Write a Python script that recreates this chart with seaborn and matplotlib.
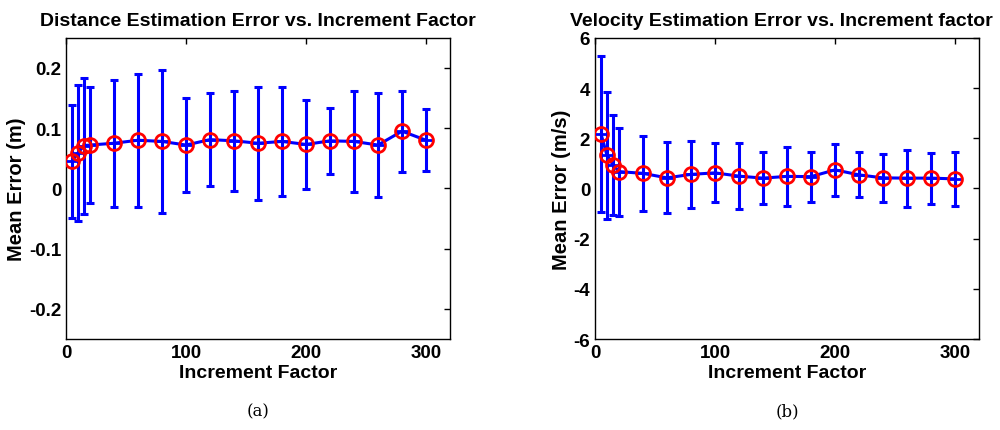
import seaborn as sns
import matplotlib.pyplot as plt
import pandas as pd

# Increment factors (x values shared by both panels)
factors = [5, 10, 15, 20, 40, 60, 80, 100, 120, 140, 160, 180, 200, 220, 240, 260, 280, 300]

# Distance estimation error (m)
dist_mean = [0.045, 0.059, 0.071, 0.072, 0.075, 0.080, 0.078, 0.072, 0.081, 0.079,
             0.075, 0.078, 0.073, 0.079, 0.078, 0.072, 0.095, 0.080]
dist_err = [0.0935, 0.1125, 0.113, 0.097, 0.105, 0.110, 0.119, 0.0785, 0.0775, 0.083,
            0.094, 0.090, 0.0735, 0.055, 0.084, 0.086, 0.0675, 0.0515]

# Velocity estimation error (m/s)
vel_mean = [2.17, 1.32, 0.94, 0.67, 0.60, 0.42, 0.56, 0.62, 0.49, 0.41,
            0.48, 0.47, 0.74, 0.54, 0.42, 0.41, 0.41, 0.38]
vel_err = [3.10, 2.54, 2.00, 1.75, 1.49, 1.41, 1.32, 1.18, 1.30, 1.04,
           1.17, 1.00, 1.03, 0.90, 0.97, 1.13, 1.02, 1.07]

sns.set_style("white")
plt.rcParams['font.family'] = ['Liberation Sans', 'DejaVu Sans']
plt.rcParams['font.weight'] = 'bold'
plt.rcParams['text.color'] = 'black'
plt.rcParams['axes.labelcolor'] = 'black'

fig = plt.figure(figsize=(10, 4.31), dpi=100)
ax1 = fig.add_axes([0.066, 0.211, 0.384, 0.699])
ax2 = fig.add_axes([0.595, 0.211, 0.384, 0.699])

panels = [
    (ax1, dist_mean, dist_err, "Distance Estimation Error vs. Increment Factor",
     "Mean Error (m)", (-0.25, 0.25), [-0.2, -0.1, 0, 0.1, 0.2], "(a)", 0.5),
    (ax2, vel_mean, vel_err, "Velocity Estimation Error vs. Increment factor",
     "Mean Error (m/s)", (-6, 6), [-6, -4, -2, 0, 2, 4, 6], "(b)", 0.485),
]

for ax, mean, err, title, ylabel, ylim, yticks, tag, tx in panels:
    df = pd.DataFrame({"factor": factors, "mean": mean})
    ax.errorbar(factors, mean, yerr=err, fmt='none', ecolor='#0000ff',
                elinewidth=2.2, capsize=3, capthick=2.2, zorder=2)
    sns.lineplot(data=df, x="factor", y="mean", ax=ax, color='#0000ff', lw=2.2,
                 marker='+', markersize=10, markeredgewidth=2, markeredgecolor='#0000ff',
                 zorder=3)
    sns.lineplot(data=df, x="factor", y="mean", ax=ax, linestyle='none',
                 marker='o', markersize=10, markerfacecolor='none',
                 markeredgecolor='#ff0000', markeredgewidth=2, zorder=4)
    ax.set_xlim(0, 320)
    ax.set_ylim(*ylim)
    ax.set_xticks([0, 100, 200, 300])
    ax.set_yticks(yticks)
    ax.set_yticklabels([f"{t:g}" for t in yticks])
    ax.tick_params(direction='in', top=True, right=True, length=4, width=1,
                   labelsize=13.5, pad=3.5, colors='black')
    for lab in ax.get_xticklabels() + ax.get_yticklabels():
        lab.set_fontweight('bold')
    for sp in ax.spines.values():
        sp.set_visible(True)
        sp.set_color('black')
        sp.set_linewidth(1)
    ax.set_title(title, fontsize=14, fontweight='bold', pad=9, color='black', x=tx)
    ax.set_xlabel("Increment Factor", fontsize=14, fontweight='bold', labelpad=2)
    ax.set_ylabel(ylabel, fontsize=14.5, fontweight='bold', labelpad=2)
    pos = ax.get_position()
    fig.text(pos.x0 + pos.width / 2, 0.045, tag, ha='center', va='center',
             fontsize=12, family=['DejaVu Serif'], fontweight='normal')

fig.savefig("out.png", dpi=100)
